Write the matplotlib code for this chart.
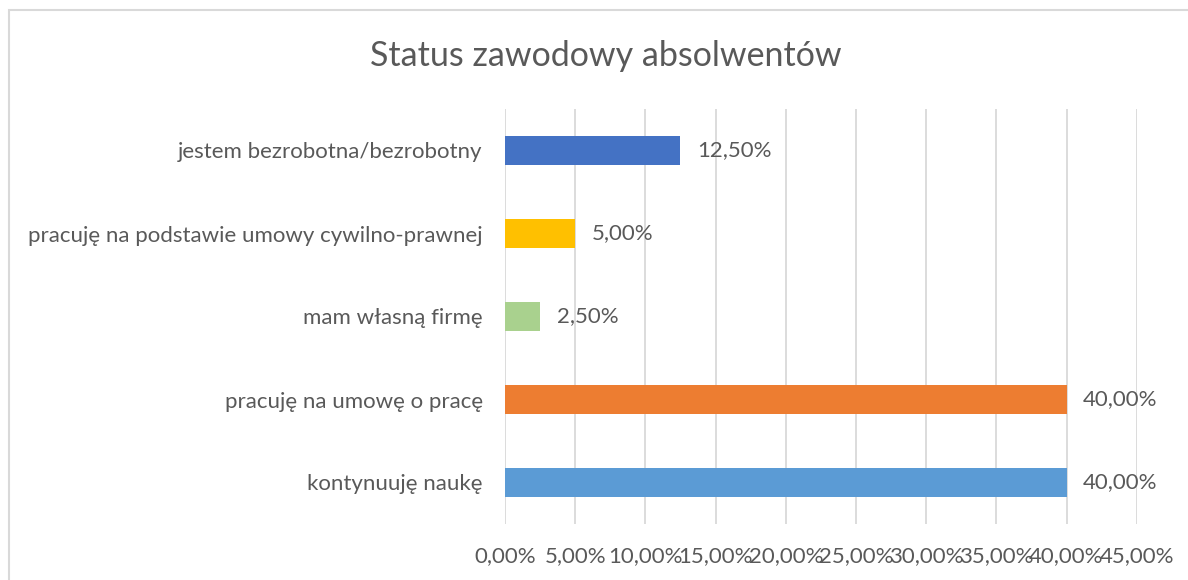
import matplotlib
matplotlib.use("Agg")
import matplotlib.pyplot as plt
from matplotlib.patches import Rectangle
from matplotlib.ticker import MultipleLocator, FuncFormatter

categories = ["kontynuuję naukę", "pracuję na umowę o pracę", "mam własną firmę",
              "pracuję na podstawie umowy cywilno-prawnej", "jestem bezrobotna/bezrobotny"]
values = [40.0, 40.0, 2.5, 5.0, 12.5]
colors = ["#5B9BD5", "#ED7D31", "#A9D18E", "#FFC000", "#4472C4"]
title = "Status zawodowy absolwentów"

plt.rcParams['font.family'] = ['Lato', 'DejaVu Sans']
txt = "#595959"

W, H = 1188, 580
fig = plt.figure(figsize=(W/100, H/100), dpi=100)
fig.patches.append(Rectangle((9/W, -0.1), 1.2, 1 - 10/H + 0.1, transform=fig.transFigure,
                             fill=False, edgecolor="#D9D9D9", linewidth=1.5))

ax = fig.add_axes([505/W, 1 - 524/H, (1136.7 - 505)/W, (524 - 109)/H])
y = list(range(len(categories)))
ax.barh(y, values, height=0.36, color=colors, zorder=3)
ax.set_xlim(0, 45)
ax.set_ylim(-0.5, len(categories) - 0.5)
ax.xaxis.set_major_locator(MultipleLocator(5))
ax.xaxis.set_major_formatter(FuncFormatter(lambda v, p: f"{v:.2f}".replace(".", ",") + "%"))
ax.grid(axis="x", color="#D9D9D9", linewidth=1.3, zorder=0)
for s in ax.spines.values():
    s.set_visible(False)
ax.tick_params(length=0, labelsize=16, colors=txt)
ax.tick_params(axis="x", pad=16)
ax.tick_params(axis="y", pad=16)
ax.set_yticks(y)
ax.set_yticklabels(categories)
for yi, v in zip(y, values):
    ax.annotate(f"{v:.2f}".replace(".", ",") + "%", (v, yi), xytext=(12, 0),
                textcoords="offset points", va="center", ha="left", fontsize=16, color=txt)

fig.text(606/W, 1 - 56/H, title, ha="center", va="center", fontsize=24.5, color=txt)
fig.savefig("out.png", dpi=100)
